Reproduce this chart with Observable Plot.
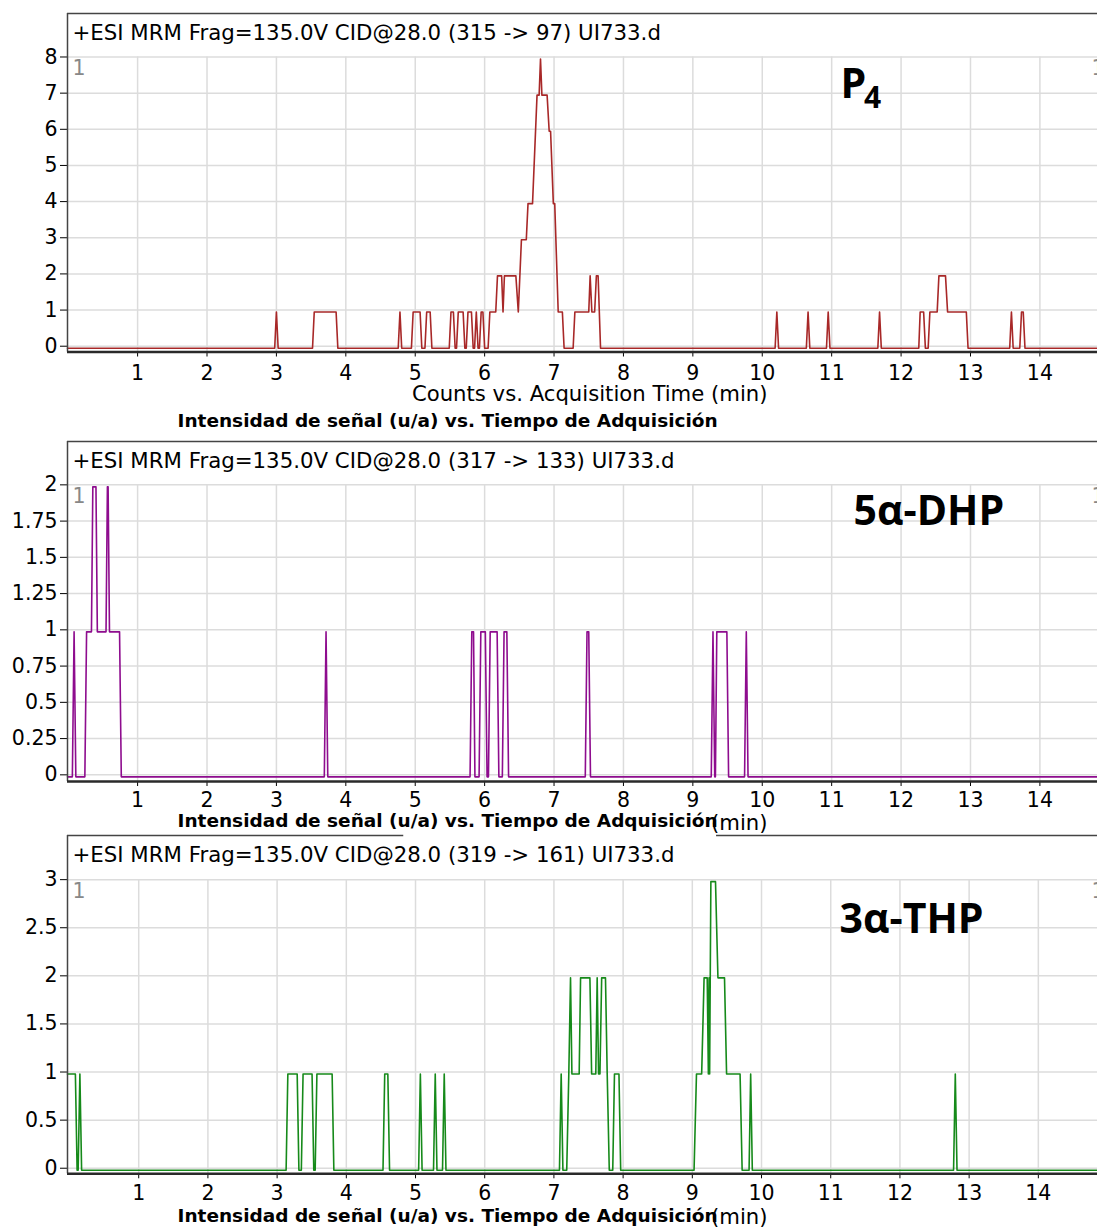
<!DOCTYPE html>
<html>
<head>
<meta charset="utf-8">
<script src="https://cdn.jsdelivr.net/npm/d3@7"></script>
<script src="https://cdn.jsdelivr.net/npm/@observablehq/plot@0.6"></script>
<style>
  html, body { margin: 0; padding: 0; background: #fff; }
  #chart svg { display: block; }
</style>
</head>
<body>
<div id="chart"></div>
<script>
// ---------- data (time in min, counts) ----------
const xTicks = [1, 2, 3, 4, 5, 6, 7, 8, 9, 10, 11, 12, 13, 14];

const panelTitles = [
  "+ESI MRM Frag=135.0V CID@28.0 (315 -> 97) UI733.d",
  "+ESI MRM Frag=135.0V CID@28.0 (317 -> 133) UI733.d",
  "+ESI MRM Frag=135.0V CID@28.0 (319 -> 161) UI733.d"
];
const compoundLabels = ["P", "5α-DHP", "3α-THP"];
const compoundSubscript = "4";
const axisLabelCounts = "Counts vs. Acquisition Time (min)";
const axisLabelMin = "(min)";
const axisLabelEs = "Intensidad de señal (u/a) vs. Tiempo de Adquisición";
const cornerLabel = "1";

const yTicksP4 = [0, 1, 2, 3, 4, 5, 6, 7, 8];
const yTicksDHP = [0, 0.25, 0.5, 0.75, 1, 1.25, 1.5, 1.75, 2];
const yTicksTHP = [0, 0.5, 1, 1.5, 2, 2.5, 3];

// P4 trace vertices [time, counts]
const p4Trace = [
  [-0.01,0],[2.975,0],[3.0,1],[3.025,0],
  [3.52,0],[3.545,1],[3.86,1],[3.885,0],
  [4.755,0],[4.78,1],[4.805,0],
  [4.945,0],[4.97,1],[5.07,1],[5.095,0],
  [5.14,0],[5.165,1],[5.215,1],[5.24,0],
  [5.49,0],[5.515,1],[5.55,1],[5.575,0],
  [5.595,0],[5.62,1],[5.69,1],[5.715,0],
  [5.735,0],[5.76,1],[5.81,1],[5.835,0],
  [5.855,0],[5.88,1],[5.905,0],
  [5.925,0],[5.95,1],[5.975,1],[6.0,0],
  [6.05,0],[6.075,1],[6.16,1],[6.185,2],[6.245,2],[6.265,1],[6.285,2],[6.45,2],
  [6.485,1],[6.53,3],[6.6,3],[6.625,4],[6.69,4],[6.755,7],[6.785,7],[6.805,8],
  [6.825,7],[6.9,7],[6.93,6],[6.95,6],[6.99,4],[7.01,4],[7.06,1],[7.12,1],[7.145,0],
  [7.275,0],[7.3,1],[7.5,1],[7.52,2],[7.545,1],[7.585,1],[7.61,2],[7.635,2],[7.67,0],
  [10.185,0],[10.21,1],[10.235,0],
  [10.635,0],[10.66,1],[10.685,0],
  [10.925,0],[10.95,1],[10.975,0],
  [11.665,0],[11.69,1],[11.715,0],
  [12.255,0],[12.275,1],[12.325,1],[12.35,0],[12.39,0],[12.415,1],[12.52,1],
  [12.545,2],[12.64,2],[12.67,1],[12.94,1],[12.965,0],
  [13.565,0],[13.59,1],[13.615,0],
  [13.71,0],[13.735,1],[13.76,1],[13.785,0],
  [14.9,0]
];

// 5α-DHP trace vertices
const dhpTrace = [
  [-0.01,0],[0.06,0],[0.085,1],[0.11,0],[0.24,0],[0.265,1],[0.335,1],[0.355,2],
  [0.40,2],[0.42,1],[0.545,1],[0.565,2],[0.575,2],[0.595,1],[0.74,1],[0.765,0],
  [3.69,0],[3.715,1],[3.74,0],
  [5.79,0],[5.815,1],[5.84,1],[5.86,0],[5.92,0],[5.945,1],[6.01,1],[6.035,0],
  [6.055,0],[6.08,1],[6.18,1],[6.205,0],[6.255,0],[6.28,1],[6.32,1],[6.345,0],
  [7.45,0],[7.475,1],[7.50,1],[7.525,0],
  [9.265,0],[9.29,1],[9.315,0],[9.325,0],[9.345,1],[9.49,1],[9.515,0],
  [9.745,0],[9.77,1],[9.795,0],
  [14.9,0]
];

// 3α-THP trace vertices
const thpTrace = [
  [-0.03,1],[0.085,1],[0.11,0],[0.125,0],[0.15,1],[0.175,0],
  [3.13,0],[3.155,1],[3.29,1],[3.315,0],[3.35,0],[3.375,1],[3.505,1],[3.53,0],
  [3.55,0],[3.575,1],[3.795,1],[3.82,0],
  [4.53,0],[4.555,1],[4.6,1],[4.625,0],
  [5.045,0],[5.07,1],[5.095,0],
  [5.26,0],[5.285,1],[5.31,0],
  [5.39,0],[5.415,1],[5.44,0],
  [7.08,0],[7.105,1],[7.13,0],[7.185,0],[7.215,1],[7.24,2],[7.26,1],[7.365,1],
  [7.385,2],[7.52,2],[7.545,1],[7.605,1],[7.625,2],[7.645,1],[7.665,1],[7.69,2],
  [7.745,2],[7.77,1],[7.8,0],[7.85,0],[7.875,1],[7.94,1],[7.965,0],
  [9.025,0],[9.06,1],[9.135,1],[9.17,2],[9.215,2],[9.232,1],[9.242,2],[9.25,1],
  [9.268,3],[9.335,3],[9.37,2],[9.465,2],[9.495,1],[9.69,1],[9.72,0],
  [9.82,0],[9.843,1],[9.867,0],
  [12.775,0],[12.8,1],[12.825,0],
  [14.9,0]
];

// ---------- drawing ----------
const GRID = "#dcdcdc";
const BORDER = "#444";
const SANS = "DejaVu Sans, Liberation Sans, sans-serif";
const BOLDSANS = "DejaVu Sans, sans-serif";
const LABELFONT = "Open Sans, Noto Sans, sans-serif";

function panel(o) {
  const [x0, x1] = o.xDomain;
  const [yb, yt] = o.yDomain;
  const marks = [
    Plot.ruleY(o.yTicks, {stroke: GRID, strokeWidth: 1.5}),
    Plot.ruleX(xTicks, {y1: () => o.gridTop, y2: () => yb, stroke: GRID, strokeWidth: 1.5}),
    Plot.line(o.trace, {x: d => d[0], y: d => d[1], stroke: o.color, strokeWidth: 1.6, dy: 2}),
    Plot.ruleX([x0], {stroke: BORDER, strokeWidth: 1.5}),
    ...(o.topSegments || [[x0, x1]]).map(([a, b]) =>
      Plot.ruleY([yt], {x1: () => a, x2: () => b, stroke: BORDER, strokeWidth: 1.5})),
    Plot.ruleY([yb], {stroke: "#2a2a2a", strokeWidth: 2.5}),
    Plot.text([o.title], {text: d => d, frameAnchor: "top-left", textAnchor: "start", lineAnchor: "middle",
      dx: 5, dy: 20, fontSize: 21.3, fontFamily: SANS, fill: "#000"}),
    Plot.text([cornerLabel], {text: d => d, frameAnchor: "top-left", textAnchor: "start", lineAnchor: "middle",
      dx: 5, dy: o.cornerDy, fontSize: 20.5, fontFamily: SANS, fill: "#888"}),
    Plot.text([cornerLabel], {text: d => d, frameAnchor: "top-right", textAnchor: "start", lineAnchor: "middle",
      dx: -6, dy: o.cornerDy, fontSize: 20.5, fontFamily: SANS, fill: "#888"}),
    Plot.text([o.label], {text: d => d, frameAnchor: "top-left", textAnchor: "start", lineAnchor: "middle",
      dx: o.labelDx, dy: o.labelDy, fontSize: 41, fontWeight: 700, fontFamily: LABELFONT, fill: "#000"}),
    Plot.text([o.bottomLabel], {text: d => d, frameAnchor: "bottom-left", textAnchor: "end", lineAnchor: "middle",
      dx: 700, dy: o.bottomDy, fontSize: 21.2, fontFamily: SANS, fill: "#000"}),
    Plot.text([axisLabelEs], {text: d => d, frameAnchor: "bottom-left", textAnchor: "start", lineAnchor: "middle",
      dx: 110, dy: o.esDy, fontSize: 18.5, fontWeight: 700, fontFamily: BOLDSANS, fill: "#000"})
  ];
  if (o.subscript) {
    marks.push(Plot.text([o.subscript], {text: d => d, frameAnchor: "top-left", textAnchor: "start", lineAnchor: "middle",
      dx: o.subDx, dy: o.subDy, fontSize: 30, fontWeight: 700, fontFamily: LABELFONT, fill: "#000"}));
  }
  return Plot.plot({
    width: 1097,
    height: o.height,
    marginLeft: 67,
    marginRight: 0,
    marginTop: o.marginTop,
    marginBottom: o.marginBottom,
    style: {fontFamily: SANS, fontSize: "20.5px", color: "#000", background: "#fff", overflow: "visible"},
    x: {domain: o.xDomain, ticks: xTicks, tickSize: 5, tickPadding: o.xPad, label: null, tickFormat: d => String(d)},
    y: {domain: o.yDomain, ticks: o.yTicks, tickSize: 7, tickPadding: 3, label: null, tickFormat: d => String(d)},
    marks
  });
}

const chart = document.getElementById("chart");

chart.appendChild(panel({
  trace: p4Trace, color: "#a82828", title: panelTitles[0], label: compoundLabels[0],
  subscript: compoundSubscript, subDx: 796.5, subDy: 84.5,
  labelDx: 773, labelDy: 71,
  yTicks: yTicksP4, gridTop: 8,
  height: 435, marginTop: 13, marginBottom: 83.5,
  xDomain: [-0.01, 14.83], yDomain: [-0.16, 9.203],
  cornerDy: 55, xPad: 8,
  bottomLabel: axisLabelCounts, bottomDy: 42.5, esDy: 69.5
}));

chart.appendChild(panel({
  trace: dhpTrace, color: "#8e0c8e", title: panelTitles[1], label: compoundLabels[1],
  labelDx: 786, labelDy: 70.5,
  yTicks: yTicksDHP, gridTop: 2,
  height: 395, marginTop: 6, marginBottom: 49,
  xDomain: [-0.01, 14.83], yDomain: [-0.046, 2.299],
  cornerDy: 55, xPad: 6,
  bottomLabel: axisLabelMin, bottomDy: 42, esDy: 40
}));

chart.appendChild(panel({
  trace: thpTrace, color: "#168a1a", title: panelTitles[2], label: compoundLabels[2],
  labelDx: 772, labelDy: 84.5,
  yTicks: yTicksTHP, gridTop: 3,
  height: 398, marginTop: 5, marginBottom: 54.7,
  xDomain: [-0.029, 14.855], yDomain: [-0.058, 3.459],
  topSegments: [[-0.029, 4.83], [9.35, 14.855]],
  cornerDy: 56, xPad: 7,
  bottomLabel: axisLabelMin, bottomDy: 43.7, esDy: 42.7
}));
</script>
</body>
</html>
